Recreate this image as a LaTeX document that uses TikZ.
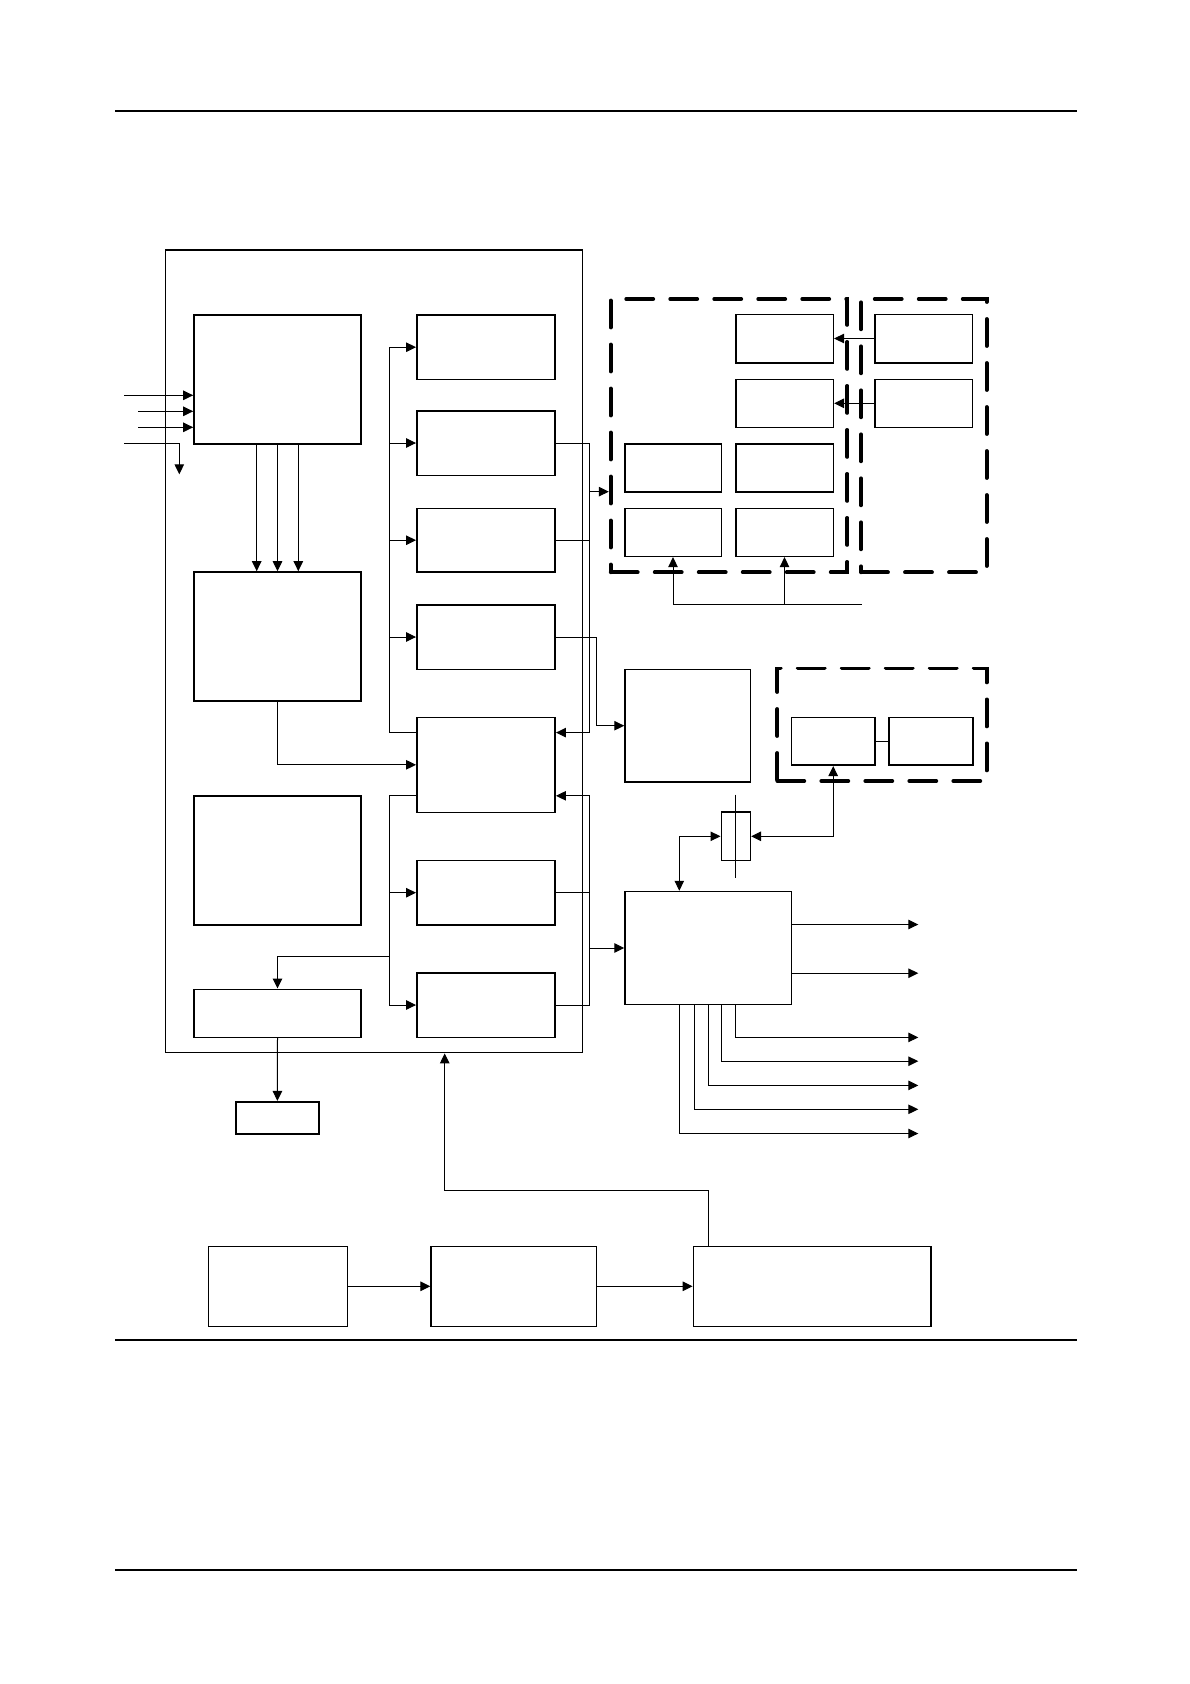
\documentclass[tikz,border=0pt]{standalone}
\usetikzlibrary{arrows.meta}

\begin{document}
\begin{tikzpicture}[x=1pt, y=-1pt, line width=1pt,
    >={Triangle[length=10pt,width=9.5pt]},
    blk/.style={draw, line width=1.6pt, inner sep=0pt},
    frame/.style={draw, line width=3.8pt, line cap=round, dash pattern=on 27pt off 17pt, inner sep=0pt}]
  \useasboundingbox (0,0) rectangle (1190,1684);
  \foreach \yy in {111,1340,1570}
    \draw[line width=1.3pt] (115,\yy) -- (1077,\yy);
  % main unit
  \node[draw, line width=1.4pt, inner sep=0pt, minimum width=417pt, minimum height=802.7pt] (sys) at (373.8,651.35) {};
  \foreach \nm/\x/\y/\w/\h in {A/277.5/379.4/167/128.7, B/277.5/636.5/167/129, C/277.5/860.4/167/129.3,
      D/277.5/1013.3/167/48, E/277.4/1117.9/83.3/32.3,
      R1/486/347.2/138.3/64.3, R2/486/443/138.3/64.6, R3/486/540.2/138.3/63.7, R4/486/637/138.3/64.6,
      R5/486/764.8/138.3/95, R6/486/892.7/138.3/64.7, R7/486/1005/138.3/64.6}
    \node[blk, minimum width=\w pt, minimum height=\h pt] (\nm) at (\x,\y) {};
  % right side
  \node[frame, minimum width=236.6pt, minimum height=273.3pt] (G1) at (729,435.65) {};
  \node[frame, minimum width=125.7pt, minimum height=273.3pt] (G2) at (923.85,435.65) {};
  \node[frame, minimum width=209.4pt, minimum height=112.6pt] (H) at (882,724.7) {};
  \foreach \nm/\x/\y/\w/\h in {T1/784.5/338.5/97.6/48.4, T2/784.5/403.3/97.6/48, T3/784.5/467.9/97.6/48.3,
      T4/784.5/532.3/97.6/48, L3/673/467.9/96.6/48.3, L4/673/532.3/96.6/48,
      S1/923.5/338.5/97.6/48.4, S2/923.5/403.3/97.6/48,
      M/687.7/725.7/125.3/112.6, F/708.2/948/166.3/112.9, K/735.8/836.3/29/48.1,
      H1/833.2/741.4/83.7/47.7, H2/930.7/741.4/84/47.7,
      P1/278/1286.3/139.3/80, P2/513.8/1286.3/165.2/80, P3/812.3/1286.3/237.8/80}
    \node[blk, minimum width=\w pt, minimum height=\h pt] (\nm) at (\x,\y) {};

  % inputs of A
  \coordinate (in1) at (124,395.3);
  \coordinate (in2) at (138.3,411.3);
  \coordinate (in3) at (138.3,427.3);
  \coordinate (in4) at (124,443.3);
  \coordinate (out4) at (179.3,474.3);
  \foreach \c in {in1,in2,in3}
    \draw[->] (\c) -- (\c -| A.west);
  \draw[->] (in4) -| (out4);
  \foreach \dx in {-20.8,0,20.8}
    \draw[->] ([xshift=\dx pt]A.south) -- ([xshift=\dx pt]B.north);
  \draw[->] (B.south) |- (R5.west);

  % left bus
  \coordinate (busL) at (389.3,0);
  \coordinate (r5nw) at ([yshift=32.5pt]R5.west);
  \coordinate (r5sw) at ([yshift=-30.5pt]R5.west);
  \coordinate (dj) at (389.3,956.3);
  \draw[->] (r5nw) -| (busL |- R1.west) -- (R1.west);
  \foreach \nm in {R2,R3,R4}
    \draw[->] (busL |- \nm.west) -- (\nm.west);
  \draw[->] (r5sw) -| (busL |- R7.west) -- (R7.west);
  \draw[->] (busL |- R6.west) -- (R6.west);
  \draw[->] (dj) -| (D.north);
  \draw[->] (D.south) -- (E.north);

  % right bus
  \coordinate (busR) at (589.3,0);
  \coordinate (busM) at (596.7,0);
  \coordinate (r5ne) at ([yshift=32.2pt]R5.east);
  \coordinate (r5se) at ([yshift=-31pt]R5.east);
  \coordinate (g1in) at ([yshift=-56pt]G1.west);
  \draw[->] (R2.east) -| (busR |- r5ne) -- (r5ne);
  \draw (R3.east) -- (R3.east -| busR);
  \draw[->] (busR |- g1in) -- (g1in);
  \draw[->] (R7.east) -| (busR |- r5se) -- (r5se);
  \draw (R6.east) -- (R6.east -| busR);
  \draw[->] (busR |- F.west) -- (F.west);
  \draw[->] (R4.east) -| (busM |- M.west) -- (M.west);

  % peripheral links
  \draw[->] (S1.west) -- (T1.east);
  \draw[->] (S2.west) -- (T2.east);
  \coordinate (gin) at (861.7,604);
  \draw[->] (gin) -| (T4.south);
  \draw[->] (T4.south |- gin) -| (L4.south);
  \draw (H1.east) -- (H2.west);
  \draw ([yshift=16.8pt]K.north) -- ([yshift=-16.8pt]K.south);
  \draw[<->] (K.east) -| (H1.south);
  \draw[<->] (K.west) -| ([xshift=-28.9pt]F.north);

  % outputs of F
  \coordinate (fo) at (918.3,0);
  \coordinate (fr1) at ([yshift=23.5pt]F.east);
  \coordinate (fr2) at ([yshift=-25.2pt]F.east);
  \draw[->] (fr1) -- (fr1 -| fo);
  \draw[->] (fr2) -- (fr2 -| fo);
  \foreach \dx/\yy [count=\i] in {27.1/1037.4, 13.1/1061.2, 0.1/1085.4, -13.9/1109.3, -28.9/1133.5} {
    \coordinate (fb\i) at (918.3,\yy);
    \draw[->] ([xshift=\dx pt]F.south) |- (fb\i);
  }

  % bottom chain
  \draw[->] (P1.east) -- (P2.west);
  \draw[->] (P2.east) -- (P3.west);
  \coordinate (fbk) at (444.7,1190.3);
  \draw[->] ([xshift=-104pt]P3.north) |- (fbk) -- (fbk |- sys.south);
\end{tikzpicture}
\end{document}
